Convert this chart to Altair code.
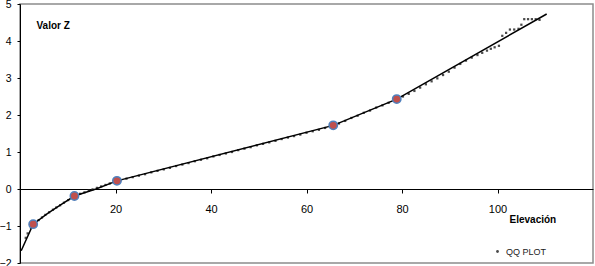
import altair as alt
import pandas as pd

# QQ plot observations (elevation vs z value)
qq_x = [1.2, 1.6, 2.3, 3.2, 3.9, 4.6, 5.3, 6.1, 6.9, 7.6, 8.4, 9.2, 10.1, 10.9, 11.8,
        12.6, 13.5, 14.4, 15.2, 16.1, 17.0, 17.9, 18.8, 19.7,
        21.0, 22.3, 23.6, 24.9, 26.2, 27.5, 28.8, 30.1, 31.4, 32.7, 34.0, 35.3, 36.6,
        37.9, 39.2, 40.5, 41.8, 43.1, 44.4, 45.7, 47.0, 48.3, 49.6, 50.9, 52.2, 53.5,
        54.8, 56.1, 57.4, 58.7, 60.0, 61.3, 62.6, 63.9, 65.2,
        66.8, 68.1, 69.4, 70.7, 72.0, 73.3, 74.6, 75.9, 77.2, 78.4,
        80.2, 81.4, 82.6, 83.8, 85.0, 86.2, 87.4, 88.6, 89.8, 91.0, 92.2, 93.4, 94.6,
        95.8, 96.8, 97.8, 98.6, 99.4, 100.3, 101.0, 101.8, 102.6, 103.5, 104.4, 105.0,
        105.6, 106.4, 107.2, 108.0, 108.8]
qq_y = [-1.32, -1.20, -1.05, -0.92, -0.84, -0.77, -0.70, -0.63, -0.56, -0.50, -0.44, -0.37,
        -0.30, -0.23, -0.17, -0.13, -0.09, -0.05, -0.01, 0.03, 0.07, 0.11, 0.15, 0.19,
        0.23, 0.28, 0.32, 0.36, 0.40, 0.45, 0.49, 0.53, 0.57, 0.62, 0.66, 0.70, 0.75,
        0.79, 0.83, 0.88, 0.92, 0.96, 1.00, 1.05, 1.09, 1.13, 1.18, 1.22, 1.26, 1.30,
        1.35, 1.39, 1.43, 1.47, 1.52, 1.56, 1.60, 1.65, 1.69,
        1.77, 1.84, 1.92, 1.98, 2.06, 2.12, 2.20, 2.26, 2.33, 2.39,
        2.50, 2.57, 2.65, 2.74, 2.83, 2.91, 2.99, 3.08, 3.17, 3.28, 3.38, 3.47, 3.55,
        3.62, 3.68, 3.74, 3.79, 3.83, 3.87, 4.14, 4.22, 4.31, 4.31, 4.33, 4.44,
        4.59, 4.59, 4.59, 4.59, 4.57]
qq_name = ["QQ PLOT"] * len(qq_x)

# fitted line
fit_x = [0.25, 2.76, 5.8, 8.5, 11.4, 15.9, 20.3, 65.6, 78.9, 110.3]
fit_y = [-1.67, -0.95, -0.66, -0.43, -0.19, 0.0, 0.22, 1.72, 2.43, 4.73]

# breakpoints
brk_x = [2.76, 11.4, 20.3, 65.6, 78.9]
brk_y = [-0.95, -0.19, 0.22, 1.72, 2.43]

x_ticks = [20, 40, 60, 80, 100]
y_ticks = [-2, -1, 0, 1, 2, 3, 4, 5]
X_DOM = [0, 120]
Y_DOM = [-2, 5]

W, H = 573, 259
x_axis_offset = -H * (0 - Y_DOM[0]) / (Y_DOM[1] - Y_DOM[0])

FONT = "Liberation Sans"

qq = pd.DataFrame({"x": qq_x, "y": qq_y, "serie": qq_name})
fit = pd.DataFrame({"x": fit_x, "y": fit_y})
brk = pd.DataFrame({"x": brk_x, "y": brk_y})

xenc = alt.X("x:Q", scale=alt.Scale(domain=X_DOM, nice=False, zero=False),
             axis=alt.Axis(values=x_ticks, offset=x_axis_offset, title="Elevación",
                           titleX=489, titleY=30, titleAlign="left", titleBaseline="middle",
                           titleAngle=0, titleFontSize=10, titleFontWeight="bold",
                           labelPadding=10, tickSize=4))
yenc = alt.Y("y:Q", scale=alt.Scale(domain=Y_DOM, nice=False, zero=False),
             axis=alt.Axis(values=y_ticks, title="Valor Z", titleAngle=0,
                           titleX=16, titleY=21, titleAlign="left", titleBaseline="middle",
                           titleFontSize=10, titleFontWeight="bold",
                           labelPadding=6, tickSize=3, labelFontSize=10.5))

dots = alt.Chart(qq).mark_square(size=5, opacity=1).encode(
    x=xenc, y=yenc,
    color=alt.Color("serie:N", scale=alt.Scale(range=["#4a4a4a"]),
                    legend=alt.Legend(title=None, orient="none", legendX=473, legendY=243,
                                      symbolType="circle", symbolSize=8,
                                      labelFontSize=9, labelFont=FONT, labelColor="#222222"))
)

line = alt.Chart(fit).mark_line(color="black", strokeWidth=1.5).encode(x=xenc, y=yenc)

pts = alt.Chart(brk).mark_circle(size=70, color="#c0504d", opacity=1,
                                 stroke="#4f81bd", strokeWidth=1.5).encode(x=xenc, y=yenc)

chart = alt.layer(dots, line, pts).properties(
    width=W, height=H,
    padding={"left": 20, "top": 4, "right": 2, "bottom": 3},
    autosize="none",
).configure_view(
    stroke="#8c8c8c", strokeWidth=1.5
).configure_axis(
    grid=False, labelFont=FONT, titleFont=FONT, labelFontSize=11,
    labelColor="#000000", titleColor="#000000",
    domainColor="#000000", tickColor="#000000", domainWidth=1, tickWidth=1
)

chart.save("out.html", embed_options={"renderer": "svg", "actions": False})
